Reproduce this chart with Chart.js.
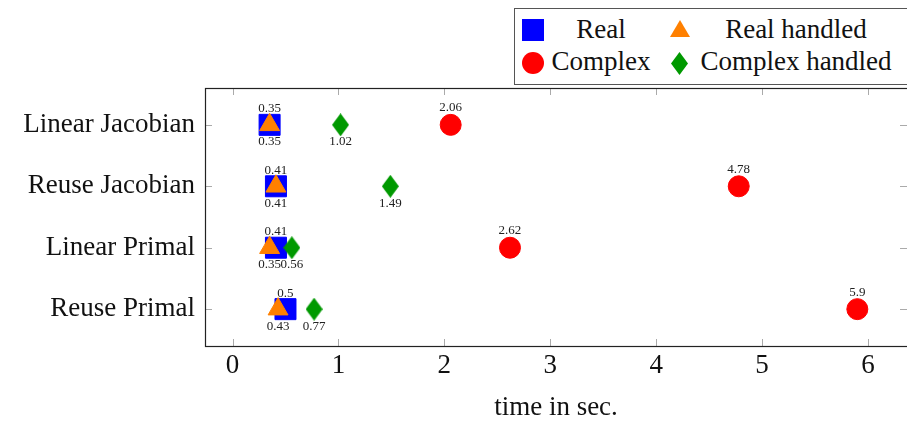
<!DOCTYPE html>
<html>
<head>
<meta charset="utf-8">
<script src="https://cdn.jsdelivr.net/npm/chart.js@4.4.0/dist/chart.umd.min.js"></script>
<style>
body { margin: 0; background: #fff; overflow: hidden; }
#wrap { position: relative; width: 907px; height: 421px; }
#legend { position: absolute; left: 514px; top: 8px; width: 400px; height: 77px; border: 1px solid #555;
  box-sizing: border-box; background: #fff; font-family: "Liberation Serif"; font-size: 27px; color: #111; }
#legend .mk { position: absolute; }
#legend .lt { position: absolute; text-align: center; line-height: 30px; white-space: nowrap; }
</style>
</head>
<body>
<div id="wrap">
  <canvas id="mycanvas" width="907" height="421"></canvas>
  <div id="legend"></div>
</div>
<script>
// values (time in sec.)
var categories = ['Linear Jacobian', 'Reuse Jacobian', 'Linear Primal', 'Reuse Primal'];
var real = [0.35, 0.41, 0.41, 0.5];
var realHandled = [0.35, 0.41, 0.35, 0.43];
var complex = [2.06, 4.78, 2.62, 5.9];
var complexHandled = [1.02, 1.49, 0.56, 0.77];
var xTicks = [0, 1, 2, 3, 4, 5, 6];

var BLUE = '#0000ff', ORANGE = '#ff8000', RED = '#ff0000', GREEN = '#009900';

function diamond(w, h, color) {
	var c = document.createElement('canvas');
	c.width = w; c.height = h;
	var g = c.getContext('2d');
	g.fillStyle = color;
	g.beginPath();
	g.moveTo(w / 2, 0); g.lineTo(w, h / 2); g.lineTo(w / 2, h); g.lineTo(0, h / 2);
	g.closePath();
	g.fill();
	return c;
}

function points(values) {
	var out = [];
	for (var i in values) out.push({x: values[i], y: Number(i)});
	return out;
}

// number next to each mark, above or below it
var valueLabels = {
	id: 'valueLabels',
	afterDatasetsDraw: function(chart) {
		var ctx = chart.ctx;
		ctx.save();
		ctx.font = '13px "Liberation Serif"';
		ctx.fillStyle = '#222';
		ctx.textAlign = 'center';
		ctx.textBaseline = 'middle';
		chart.data.datasets.forEach(function(ds, i) {
			chart.getDatasetMeta(i).data.forEach(function(pt, j) {
				ctx.fillText(String(ds.data[j].x), pt.x, pt.y + ds.labelOffset);
			});
		});
		ctx.restore();
	}
};

// pgfplots style box with inward ticks on all sides
var frame = {
	id: 'frame',
	afterDraw: function(chart) {
		var ctx = chart.ctx, a = chart.chartArea;
		var xs = chart.scales.x, ys = chart.scales.y;
		ctx.save();
		ctx.strokeStyle = '#aaa';
		ctx.lineWidth = 1;
		ctx.beginPath();
		xs.ticks.forEach(function(t) {
			var px = Math.round(xs.getPixelForValue(t.value)) + 0.5;
			ctx.moveTo(px, a.bottom); ctx.lineTo(px, a.bottom - 7);
			ctx.moveTo(px, a.top); ctx.lineTo(px, a.top + 7);
		});
		ys.ticks.forEach(function(t) {
			var py = Math.round(ys.getPixelForValue(t.value)) + 0.5;
			ctx.moveTo(a.left, py); ctx.lineTo(a.left + 7, py);
			ctx.moveTo(a.right, py); ctx.lineTo(a.right - 7, py);
		});
		ctx.stroke();
		ctx.strokeStyle = '#222';
		ctx.lineWidth = 1.2;
		ctx.strokeRect(a.left + 0.5, a.top + 0.5, a.right - a.left + 2, a.bottom - a.top);
		ctx.restore();
	}
};

var chartdata = {
	datasets: [
		{ label: 'Real', data: points(real), pointStyle: 'rect', pointRadius: 14.85, pointHoverRadius: 14.85,
		  backgroundColor: BLUE, borderColor: BLUE, borderWidth: 1, labelOffset: -16, order: 3 },
		{ label: 'Complex', data: points(complex), pointStyle: 'circle', pointRadius: 10.5, pointHoverRadius: 10.5,
		  backgroundColor: RED, borderColor: RED, borderWidth: 1, labelOffset: -17, order: 2 },
		{ label: 'Real handled', data: points(realHandled), pointStyle: 'triangle', pointRadius: 11.5, pointHoverRadius: 11.5,
		  backgroundColor: ORANGE, borderColor: ORANGE, borderWidth: 1, labelOffset: 17, order: 1 },
		{ label: 'Complex handled', data: points(complexHandled), pointStyle: diamond(17, 23, GREEN), pointRadius: 11,
		  backgroundColor: GREEN, borderColor: GREEN, borderWidth: 0, labelOffset: 17, order: 0 }
	]
};

Chart.defaults.font.family = '"Liberation Serif"';
Chart.defaults.color = '#111';

var LineGraph = new Chart(document.getElementById('mycanvas'), {
	type: 'scatter',
	data: chartdata,
	plugins: [valueLabels, frame],
	options: {
		responsive: false,
		animation: false,
		events: [],
		layout: { autoPadding: false, padding: { top: 88, right: 0, bottom: 0, left: 0 } },
		plugins: { legend: { display: false }, tooltip: { enabled: false } },
		scales: {
			x: {
				type: 'linear', min: -0.26, max: 6.369,
				afterBuildTicks: function(s) { s.ticks = xTicks.map(function(v) { return {value: v}; }); },
				afterFit: function(s) { s.height = 75; },
				grid: { display: false, drawTicks: false },
				border: { display: false },
				ticks: { font: { size: 27 }, padding: 4, color: '#111' },
				title: { display: true, text: 'time in sec.', font: { size: 27 }, color: '#111', padding: { top: 0, bottom: -3 } }
			},
			y: {
				type: 'linear', min: -0.6, max: 3.6, reverse: true,
				afterBuildTicks: function(s) { s.ticks = categories.map(function(c, i) { return {value: i}; }); },
				afterFit: function(s) { s.width = 205; },
				grid: { display: false, drawTicks: false },
				border: { display: false },
				ticks: { font: { size: 27 }, padding: 10, color: '#111',
					callback: function(v) { return categories[v]; } }
			}
		}
	}
});

// legend, two columns like the pgfplots one
var legendItems = [
	{ text: 'Real', color: BLUE, shape: 'square', mx: 7, my: 10, w: 22, h: 22, tx: 36, tw: 100, ty: 5 },
	{ text: 'Real handled', color: ORANGE, shape: 'triangle', mx: 155, my: 11, w: 20, h: 17, tx: 171, tw: 220, ty: 5 },
	{ text: 'Complex', color: RED, shape: 'circle', mx: 7, my: 43, w: 22, h: 22, tx: 36, tw: 100, ty: 37 },
	{ text: 'Complex handled', color: GREEN, shape: 'diamond', mx: 156, my: 43, w: 17, h: 23, tx: 171, tw: 220, ty: 37 }
];
var clips = {
	square: 'none',
	circle: 'circle(50% at 50% 50%)',
	triangle: 'polygon(50% 0, 100% 100%, 0 100%)',
	diamond: 'polygon(50% 0, 100% 50%, 50% 100%, 0 50%)'
};
var legend = document.getElementById('legend');
legendItems.forEach(function(it) {
	var m = document.createElement('div');
	m.className = 'mk';
	m.style.cssText = 'left:' + it.mx + 'px;top:' + it.my + 'px;width:' + it.w + 'px;height:' + it.h +
		'px;background:' + it.color + ';clip-path:' + clips[it.shape] + ';';
	legend.appendChild(m);
	var t = document.createElement('div');
	t.className = 'lt';
	t.style.cssText = 'left:' + it.tx + 'px;top:' + it.ty + 'px;width:' + it.tw + 'px;';
	t.textContent = it.text;
	legend.appendChild(t);
});
</script>
</body>
</html>
